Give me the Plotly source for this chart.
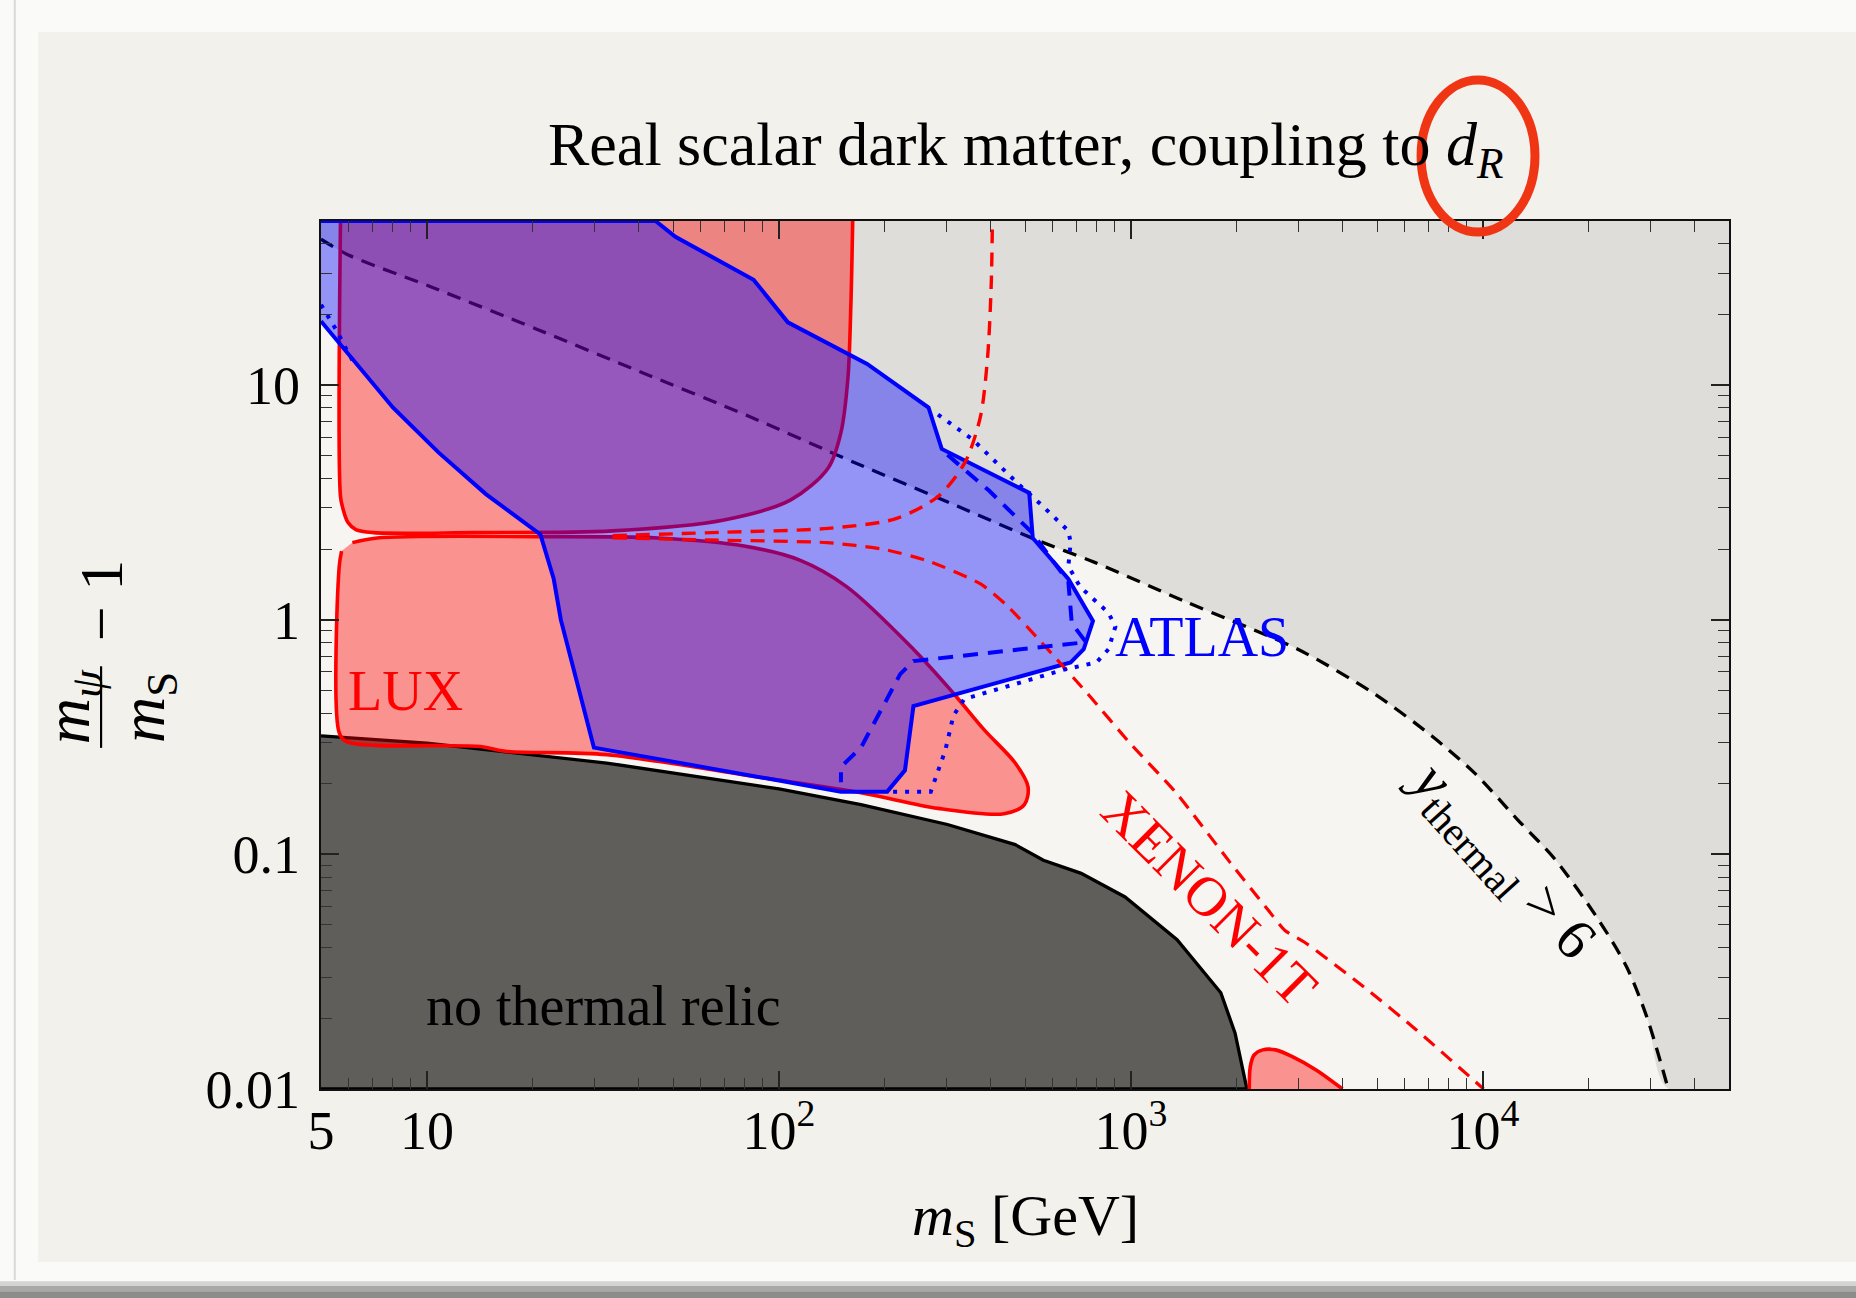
import math
import plotly.graph_objects as go

# ---------------- data (x: m_S [GeV], y: m_psi/m_S - 1) ----------------
X_RANGE = [5, 5e4]
Y_RANGE = [0.01, 50]

x_major = [5, 10, 100, 1000, 10000]
x_ticktext = ["5", "10", "10<sup>2</sup>", "10<sup>3</sup>", "10<sup>4</sup>"]
y_major = [0.01, 0.1, 1, 10]
y_ticktext = ["0.01", "0.1", "1", "10"]
x_minor = [6, 7, 8, 9, 20, 30, 40, 50, 60, 70, 80, 90, 200, 300, 400, 500, 600, 700, 800, 900,
           2000, 3000, 4000, 5000, 6000, 7000, 8000, 9000, 20000, 30000, 40000]
y_minor = [0.02, 0.03, 0.04, 0.05, 0.06, 0.07, 0.08, 0.09, 0.2, 0.3, 0.4, 0.5, 0.6, 0.7, 0.8, 0.9,
           2, 3, 4, 5, 6, 7, 8, 9, 20, 30, 40]

# y_thermal = 6 contour (black dashed)
thermal_x = [5, 5.96, 10.2, 20.5, 40.3, 81.5, 163, 321, 530, 792, 1416, 2979, 4887, 7142,
             9440, 12570, 16100, 21280, 25600, 29200, 33600]
thermal_y = [41.8, 35.9, 26.3, 17.3, 11.4, 7.39, 4.69, 3.05, 2.21, 1.75, 1.20, 0.748, 0.486,
             0.320, 0.223, 0.140, 0.0944, 0.0527, 0.0331, 0.0203, 0.01]

# no thermal relic boundary
relic_x = [5, 10, 32.4, 100, 171, 301, 469, 564, 722, 962, 1352, 1800, 1976, 2135]
relic_y = [0.32, 0.298, 0.245, 0.19, 0.163, 0.134, 0.110, 0.0944, 0.083, 0.0658, 0.0433,
           0.0257, 0.0173, 0.01]

# LUX exclusion (three pieces)
lux_up_x = [5.68, 5.68, 5.77, 5.96, 6.28, 7.06, 13.6, 33.7, 69.8, 108, 138, 150, 157, 160, 162]
lux_up_y = [50, 3.35, 2.98, 2.60, 2.42, 2.35, 2.35, 2.39, 2.66, 3.24, 4.43, 6.28, 10.7, 21.5, 50]

lux_lo_x = [6.14, 7.22, 21.0, 45.2, 79.6, 115, 156, 241, 313, 383, 469, 510, 498, 436, 283,
            171, 88, 32.4, 16.7, 14.2, 5.91, 5.63, 5.63, 5.72]
lux_lo_y = [2.13, 2.23, 2.26, 2.23, 2.06, 1.79, 1.38, 0.748, 0.486, 0.339, 0.245, 0.194, 0.163,
            0.149, 0.157, 0.183, 0.213, 0.266, 0.275, 0.288, 0.302, 0.331, 1.67, 1.96]

lux_sm_x = [2168, 2183, 2238, 2368, 2576, 2873, 3357, 3990]
lux_sm_y = [0.01, 0.01246, 0.01396, 0.01468, 0.01468, 0.01374, 0.01206, 0.01]

# ATLAS exclusion (solid)
atlas_x = [5, 44.6, 50.8, 84.7, 106, 158.5, 178, 266, 290, 514, 526, 664, 780, 734, 674, 241,
           232, 228, 203, 150, 29.8, 24.0, 22.9, 21.0, 14.7, 10.8, 8.0, 5]
atlas_y = [50, 50, 42.8, 28.1, 18.5, 13.5, 12.3, 8.02, 5.34, 3.47, 2.23, 1.49, 0.988, 0.748,
           0.658, 0.428, 0.285, 0.228, 0.185, 0.185, 0.285, 1.0, 1.50, 2.31, 3.43, 5.15, 8.02, 18.7]

# ATLAS expected (dashed)
atlas_exp_x = [301, 395, 522, 664, 679, 745, 241, 221, 171, 150, 150]
atlas_exp_y = [5.04, 3.55, 2.36, 1.45, 0.966, 0.802, 0.666, 0.586, 0.285, 0.236, 0.203]

# ATLAS (dotted)
atlas_dot_x = [5, 5.56, 5.96, 6.28, None, 283, 355, 480, 556, 664, 674, 664, 717, 863, 903, 863,
               799, 649, 336, 313, 297, 270, 205]
atlas_dot_y = [22.0, 16.9, 13.8, 12.0, None, 7.48, 5.86, 3.77, 3.09, 2.39, 2.13, 1.69, 1.38,
               1.07, 0.933, 0.748, 0.658, 0.614, 0.459, 0.390, 0.278, 0.185, 0.185]

# XENON-1T projections (red dashed)
xenon_a_x = [33.7, 70.3, 138, 214, 283, 338, 374, 392, 401, 404]
xenon_a_y = [2.28, 2.36, 2.45, 2.69, 3.35, 4.69, 7.39, 13.5, 27.2, 50]
xenon_b_x = [33.7, 70.3, 137, 200, 268, 374, 444, 556, 751, 993, 1343, 1914, 2453, 2733, 3142,
             4592, 6457, 10040]
xenon_b_y = [2.23, 2.18, 2.13, 1.99, 1.77, 1.42, 1.15, 0.802, 0.486, 0.298, 0.183, 0.0922,
             0.0579, 0.0475, 0.0418, 0.0272, 0.0179, 0.01]

# text label anchor points (data coordinates)
lux_label = (8.7, 0.497)
atlas_label = (1592, 0.84)
xenon_label = (1667, 0.065)
ythermal_label = (11200, 0.094)
relic_label = (31.7, 0.0226)

# ---------------- figure ----------------
FONT = "Liberation Serif"
fig = go.Figure()

# grey region above y_thermal = 6
fig.add_trace(go.Scatter(
    x=thermal_x + [X_RANGE[1], X_RANGE[1], X_RANGE[0]],
    y=thermal_y + [Y_RANGE[0], Y_RANGE[1], Y_RANGE[1]],
    mode="lines", fill="toself", fillcolor="#dfddd9", line=dict(width=0, shape="spline"),
    hoverinfo="skip"))

fig.add_trace(go.Scatter(
    x=thermal_x, y=thermal_y, mode="lines",
    line=dict(color="black", width=3.3, dash="14px,9px", shape="spline", smoothing=0.8),
    hoverinfo="skip"))

# no thermal relic
fig.add_trace(go.Scatter(
    x=relic_x + [X_RANGE[0]], y=relic_y + [Y_RANGE[0]],
    mode="lines", fill="toself", fillcolor="#5f5e5b",
    line=dict(color="black", width=3.3), hoverinfo="skip"))

# LUX
for xs, ys in [(lux_up_x, lux_up_y), (lux_lo_x, lux_lo_y), (lux_sm_x, lux_sm_y)]:
    fig.add_trace(go.Scatter(
        x=xs, y=ys, mode="lines", fill="toself", fillcolor="rgba(255,0,0,0.4)",
        line=dict(color="#ff0000", width=3.6, shape="spline", smoothing=0.9), hoverinfo="skip"))

# ATLAS
fig.add_trace(go.Scatter(
    x=atlas_x, y=atlas_y, mode="lines", fill="toself", fillcolor="rgba(0,0,255,0.4)",
    line=dict(color="#0000ff", width=4), hoverinfo="skip"))

# XENON-1T
fig.add_trace(go.Scatter(x=xenon_a_x, y=xenon_a_y, mode="lines",
                         line=dict(color="#ff0000", width=3.4, dash="14px,9px", shape="spline",
                                   smoothing=0.8), hoverinfo="skip"))
fig.add_trace(go.Scatter(x=xenon_b_x, y=xenon_b_y, mode="lines",
                         line=dict(color="#ff0000", width=3.2, dash="14px,9px", shape="spline",
                                   smoothing=0.6), hoverinfo="skip"))

# ATLAS dashed & dotted
fig.add_trace(go.Scatter(x=atlas_exp_x, y=atlas_exp_y, mode="lines",
                         line=dict(color="#0000ff", width=4, dash="15px,10px"), hoverinfo="skip"))
fig.add_trace(go.Scatter(x=atlas_dot_x, y=atlas_dot_y, mode="lines", connectgaps=False,
                         line=dict(color="#0000ff", width=4, dash="4px,8px"), hoverinfo="skip"))

axis_common = dict(
    type="log", showgrid=False, zeroline=False, showline=True, linecolor="#111111",
    linewidth=2.4, mirror="allticks", ticks="inside", ticklen=18, tickwidth=1.6,
    tickcolor="#222222", tickmode="array",
    tickfont=dict(family=FONT, size=54, color="black"),
)
fig.update_xaxes(
    **axis_common, range=[math.log10(X_RANGE[0]), math.log10(X_RANGE[1])],
    tickvals=x_major, ticktext=x_ticktext, ticklabelstandoff=-7,
    minor=dict(tickmode="array", tickvals=x_minor, ticks="inside", ticklen=11,
               tickwidth=1.3, tickcolor="#333333"))
fig.update_yaxes(
    **axis_common, range=[math.log10(Y_RANGE[0]), math.log10(Y_RANGE[1])],
    tickvals=y_major, ticktext=y_ticktext, ticklabelstandoff=8,
    minor=dict(tickmode="array", tickvals=y_minor, ticks="inside", ticklen=11,
               tickwidth=1.3, tickcolor="#333333"))

shapes = [
    # card
    dict(type="rect", xref="paper", yref="paper", x0=-0.201, x1=1.2, y0=-0.1993, y1=1.2177,
         fillcolor="#f3f1ec", line=dict(width=0), layer="below"),
    # outer frame line
    dict(type="line", xref="paper", yref="paper", x0=-0.2175, x1=-0.2175, y0=-0.22, y1=1.3,
         line=dict(color="#d8d8d6", width=2), layer="below"),
    # bottom shadow
    dict(type="rect", xref="paper", yref="paper", x0=-0.3, x1=1.2, y0=-0.2215, y1=-0.227,
         fillcolor="#d4d4d2", line=dict(width=0), layer="below"),
    dict(type="rect", xref="paper", yref="paper", x0=-0.3, x1=1.2, y0=-0.227, y1=-0.233,
         fillcolor="#a9a9a7", line=dict(width=0), layer="below"),
    dict(type="rect", xref="paper", yref="paper", x0=-0.3, x1=1.2, y0=-0.233, y1=-0.26,
         fillcolor="#8c8c8a", line=dict(width=0), layer="below"),
    # plot area background
    dict(type="rect", xref="paper", yref="paper", x0=0, x1=1, y0=0, y1=1,
         fillcolor="#f7f5f1", line=dict(width=0), layer="below"),
    # fraction bar of y label
    dict(type="line", xref="paper", yref="paper", x0=-0.1562, x1=-0.1562, y0=0.393, y1=0.487,
         line=dict(color="black", width=2.2)),
    # red hand-drawn circle
    dict(type="circle", xref="paper", yref="paper", x0=0.7813, x1=0.8622, y0=0.9873, y1=1.1624,
         line=dict(color="#f03515", width=9), layer="above"),
]

L = math.log10
annotations = [
    dict(x=0.5, y=1.084, xref="paper", yref="paper", xanchor="center", yanchor="middle",
         text="Real scalar dark matter, coupling to <i>d</i><sub><i>R</i></sub>",
         showarrow=False, font=dict(family=FONT, size=62, color="black")),
    dict(x=0.5, y=-0.150, xref="paper", yref="paper", xanchor="center", yanchor="middle",
         text="<i>m</i><sub>S</sub> [GeV]", showarrow=False,
         font=dict(family=FONT, size=58, color="black")),
    dict(x=-0.1768, y=0.440, xref="paper", yref="paper", xanchor="center", yanchor="middle",
         text="<i>m</i><sub><i>ψ</i></sub>", textangle=-90, showarrow=False,
         font=dict(family=FONT, size=64, color="black")),
    dict(x=-0.1236, y=0.440, xref="paper", yref="paper", xanchor="center", yanchor="middle",
         text="<i>m</i><sub>S</sub>", textangle=-90, showarrow=False,
         font=dict(family=FONT, size=64, color="black")),
    dict(x=-0.1562, y=0.562, xref="paper", yref="paper", xanchor="center", yanchor="middle",
         text="− 1", textangle=-90, showarrow=False,
         font=dict(family=FONT, size=62, color="black")),
    dict(x=L(lux_label[0]), y=L(lux_label[1]), text="LUX", showarrow=False,
         font=dict(family=FONT, size=56, color="#ff0000")),
    dict(x=L(atlas_label[0]), y=L(atlas_label[1]), text="ATLAS", showarrow=False,
         font=dict(family=FONT, size=56, color="#0000ff")),
    dict(x=L(xenon_label[0]), y=L(xenon_label[1]), text="XENON-1T", showarrow=False,
         textangle=45, font=dict(family=FONT, size=56, color="#ff0000")),
    dict(x=L(ythermal_label[0]), y=L(ythermal_label[1]),
         text="<i>y</i><sub>thermal</sub> > 6", showarrow=False,
         textangle=48, font=dict(family=FONT, size=58, color="black")),
    dict(x=L(relic_label[0]), y=L(relic_label[1]), text="no thermal relic", showarrow=False,
         font=dict(family=FONT, size=56, color="black")),
]

fig.update_layout(
    width=1856, height=1298,
    margin=dict(l=321, r=127, t=221, b=209),
    paper_bgcolor="#fafaf9",
    plot_bgcolor="rgba(0,0,0,0)",
    showlegend=False,
    font=dict(family=FONT, color="black"),
    shapes=shapes,
    annotations=annotations,
)

fig.write_html("out.html")
